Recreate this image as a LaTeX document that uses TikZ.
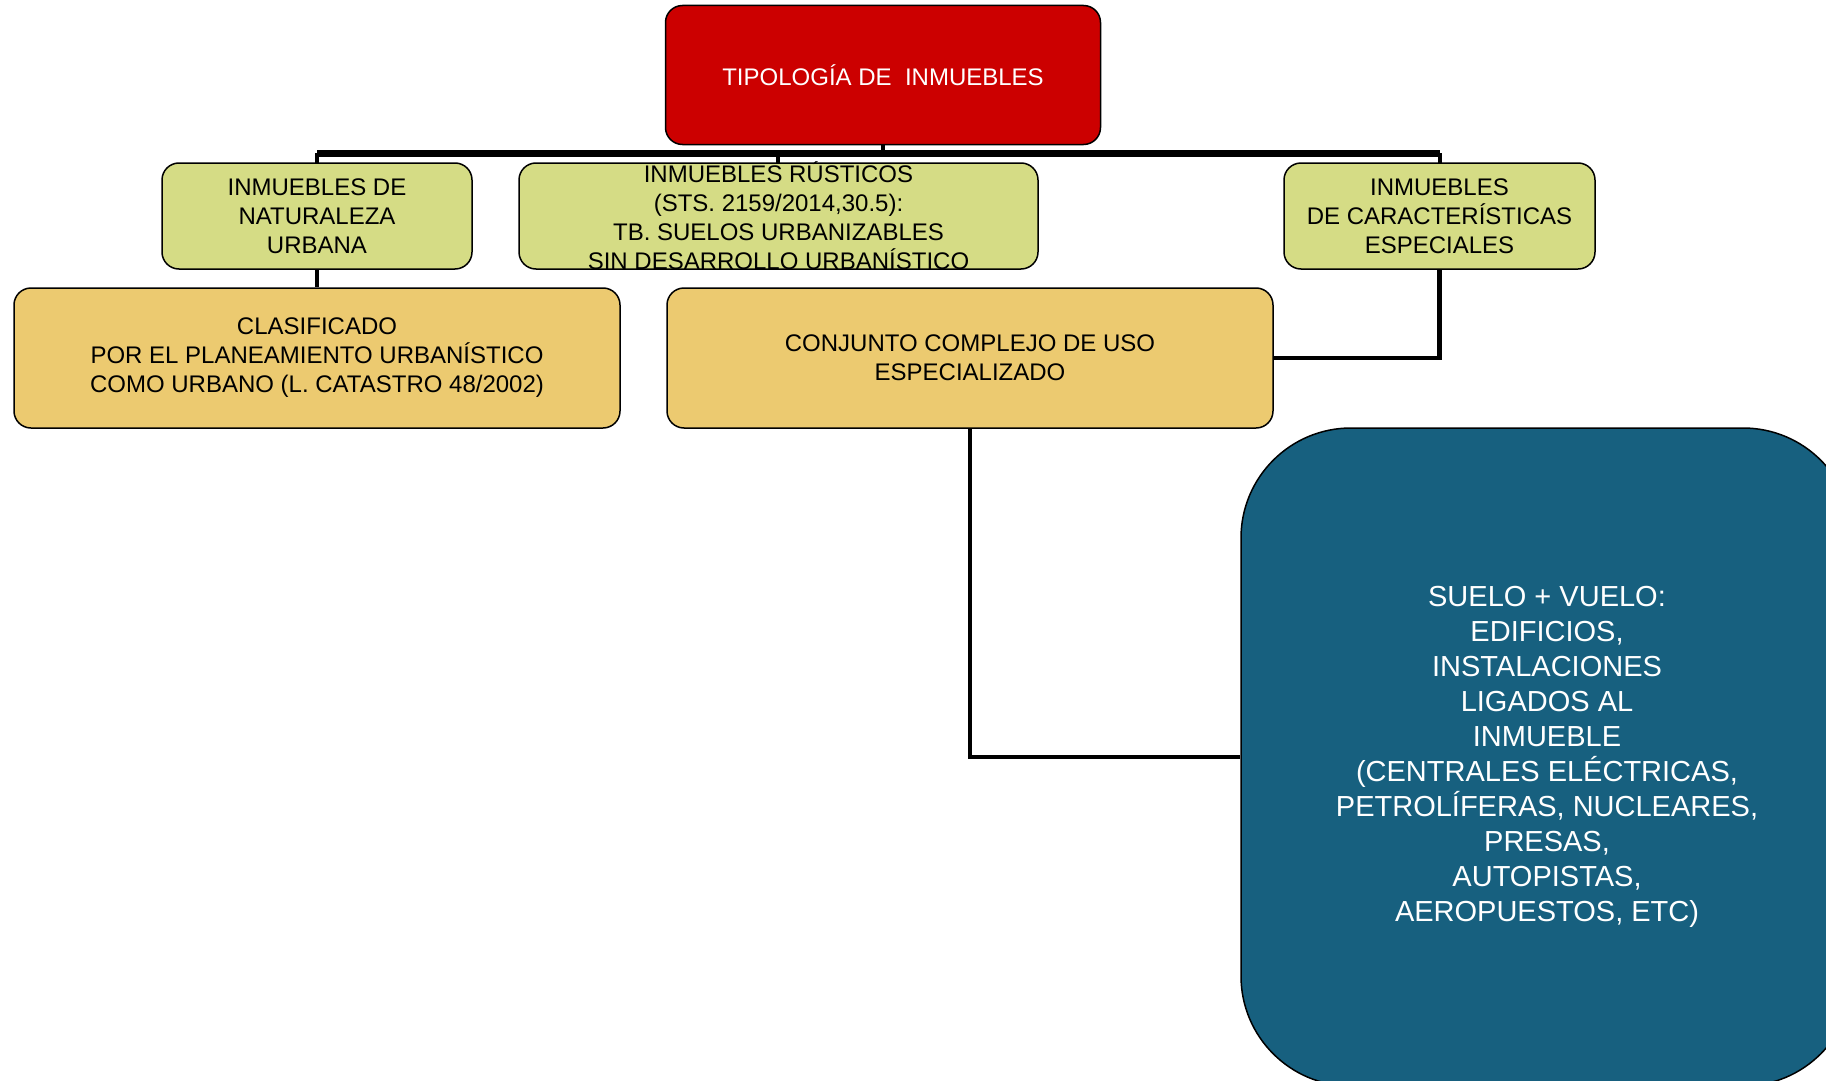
\documentclass[tikz,border=0pt]{standalone}
\usepackage{fontspec}
\setmainfont{Liberation Sans}
\usepackage{xcolor}
\usetikzlibrary{positioning}
\usetikzlibrary{calc}

\definecolor{rojo}{HTML}{CC0000}
\definecolor{verde}{HTML}{D5DC85}
\definecolor{ocre}{HTML}{ECCA70}
\definecolor{azul}{HTML}{17607F}

\begin{document}
\begin{tikzpicture}[x=1pt,y=-1pt,
		caja/.style={draw=black, line width=1.5pt, rounded corners=17pt, align=center, inner sep=0pt, font=\fontsize{24}{29}\selectfont},
		conn/.style={line width=4.5pt, black},
		bus/.style={line width=7pt, black}]
				% page frame
				\useasboundingbox (0,0) rectangle (1826,1081);
				\clip (0,0) rectangle (1826,1081);
				% draw connectors
				\coordinate (bar) at (883,153);
				\coordinate (barurb) at (317,153);
				\coordinate (baresp) at (1440,153);
				\draw[conn] (883,144) -- (bar);
				\draw[bus] (barurb) -- (baresp);
				\draw[conn] (barurb) -- (317,165);
				\draw[conn] (778,153) -- (778,165);
				\draw[conn] (baresp) -- (1440,165);
				% boxes
				\node[caja, fill=rojo, text=white, minimum width=435pt, minimum height=139pt] (root) at (883,75) {TIPOLOGÍA DE\ \ INMUEBLES};
				\node[caja, fill=verde, minimum width=310pt, minimum height=106pt] (urb) at (317,216) {INMUEBLES DE\\NATURALEZA\\URBANA};
				\node[caja, fill=verde, minimum width=519pt, minimum height=106pt] (rus) at (778.5,216) {};
				\node[align=center, font=\fontsize{24}{29}\selectfont, inner sep=0pt] (rustxt) at (778.5,216) {INMUEBLES RÚSTICOS\\(STS. 2159/2014,30.5):\\TB. SUELOS URBANIZABLES\\SIN DESARROLLO URBANÍSTICO};
				\node[caja, fill=verde, minimum width=311pt, minimum height=106pt] (esp) at (1439.5,216) {INMUEBLES\\DE CARACTERÍSTICAS\\ESPECIALES};
				\node[caja, fill=ocre, minimum width=606pt, minimum height=140pt] (clas) at (317,358) {CLASIFICADO\\POR EL PLANEAMIENTO URBANÍSTICO\\COMO URBANO (L. CATASTRO 48/2002)};
				\node[caja, fill=ocre, minimum width=606pt, minimum height=140pt] (conj) at (970,358) {CONJUNTO COMPLEJO DE USO\\ESPECIALIZADO};
				\node[caja, fill=azul, text=white, rounded corners=110pt, minimum width=612pt, minimum height=658pt, font=\fontsize{29}{35}\selectfont] (suelo) at (1547,757) {SUELO + VUELO:\\EDIFICIOS,\\INSTALACIONES\\LIGADOS AL\\INMUEBLE\\(CENTRALES ELÉCTRICAS,\\PETROLÍFERAS, NUCLEARES,\\PRESAS,\\AUTOPISTAS,\\AEROPUESTOS, ETC)};
				% lower connectors
				\draw[conn] (urb.south) -- (clas.north);
				\draw[conn] (esp.south) |- (conj.east);
				\draw[conn] (conj.south) |- (suelo.west);
			\end{tikzpicture}
\end{document}
